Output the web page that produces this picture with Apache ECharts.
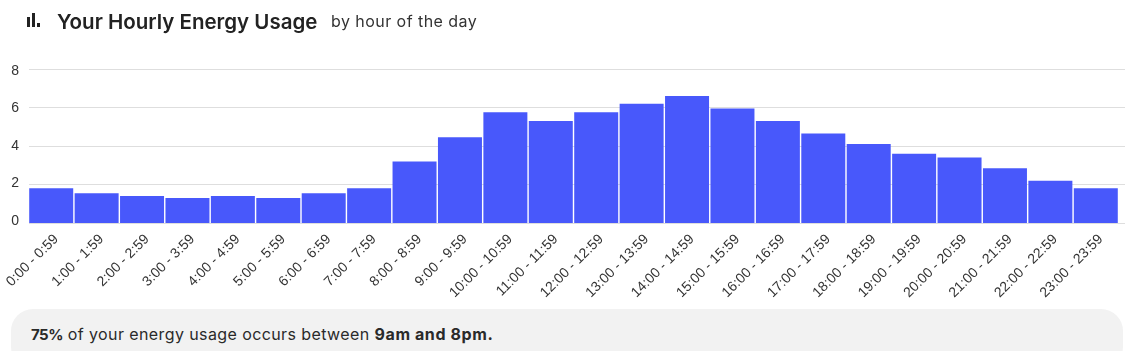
<!DOCTYPE html>
<html>
<head>
<meta charset="utf-8">
<title>Your Hourly Energy Usage</title>
<script src="https://cdn.jsdelivr.net/npm/echarts@6/dist/echarts.min.js"></script>
<style>
  html, body { margin: 0; padding: 0; background: #fff; overflow: hidden; }
  body { width: 1128px; height: 351px; position: relative; font-family: Inter, "Noto Sans", sans-serif; color: #222; }
  #chart { position: absolute; left: 0; top: 0; width: 1128px; height: 351px; }
  .icon { position: absolute; left: 26px; top: 13px; width: 15px; height: 14px; }
  .icon i { position: absolute; bottom: 0; width: 3px; background: #222; }
  .title { position: absolute; left: 57px; top: 9px; font-size: 20.5px; line-height: 26px; font-weight: 600; white-space: nowrap; }
  .sub { position: absolute; left: 331px; top: 10px; font-size: 16px; line-height: 22px; letter-spacing: 0.45px; white-space: nowrap; color: #333; }
  .note { position: absolute; left: 11px; top: 309px; width: 1112px; height: 60px; border-radius: 22px; background: #f2f2f2; }
  .note span { position: absolute; left: 20px; top: 14px; font-size: 16px; line-height: 22px; letter-spacing: 0.4px; white-space: nowrap; color: #2a2a2a; }
  .note b.pct { letter-spacing: -0.5px; font-size: 15px; }
  .note b.hrs { letter-spacing: 0.6px; }
</style>
</head>
<body>
<div id="chart"></div>
<div class="icon"><i style="left:1px;height:10px"></i><i style="left:6px;height:14px"></i><i style="left:11px;height:4px"></i></div>
<div class="title">Your Hourly Energy Usage</div>
<div class="sub">by hour of the day</div>
<div class="note"><span><b class="pct">75%</b> of your energy usage occurs between <b class="hrs">9am and 8pm.</b></span></div>
<script>
const hours = ['0:00 - 0:59', '1:00 - 1:59', '2:00 - 2:59', '3:00 - 3:59', '4:00 - 4:59', '5:00 - 5:59',
  '6:00 - 6:59', '7:00 - 7:59', '8:00 - 8:59', '9:00 - 9:59', '10:00 - 10:59', '11:00 - 11:59',
  '12:00 - 12:59', '13:00 - 13:59', '14:00 - 14:59', '15:00 - 15:59', '16:00 - 16:59', '17:00 - 17:59',
  '18:00 - 18:59', '19:00 - 19:59', '20:00 - 20:59', '21:00 - 21:59', '22:00 - 22:59', '23:00 - 23:59']
const usage = [1.8, 1.55, 1.4, 1.3, 1.4, 1.3, 1.55, 1.8, 3.2, 4.45, 5.75, 5.3,
  5.75, 6.2, 6.6, 5.95, 5.3, 4.65, 4.1, 3.6, 3.4, 2.85, 2.2, 1.8]
const yMax = 8
const yStep = 2

const myChart = echarts.init(document.getElementById('chart'), null, { renderer: 'canvas' })
myChart.setOption({
  animation: false,
  textStyle: { fontFamily: '"Liberation Sans", Arial, sans-serif' },
  // grid 0: gridlines, they run a bit past the last bar
  // grid 1: bars and hour labels
  // grid 2: y labels, spaced slightly tighter than the gridlines
  grid: [
    { left: 29, right: 3, top: 69, bottom: 128, outerBoundsMode: 'none' },
    { left: 28.5, right: 9.5, top: 69, bottom: 128, outerBoundsMode: 'none' },
    { left: 29, right: 3, top: 71, bottom: 130, outerBoundsMode: 'none' }
  ],
  xAxis: [
    { type: 'value', gridIndex: 0, show: false, min: 0, max: 1 },
    {
      type: 'category',
      gridIndex: 1,
      data: hours,
      axisTick: { show: false },
      axisLine: { show: false },
      axisLabel: { interval: 0, rotate: 45, fontSize: 14, color: '#333', margin: 9, align: 'right', verticalAlign: 'top' }
    },
    { type: 'value', gridIndex: 2, show: false, min: 0, max: 1 }
  ],
  yAxis: [
    {
      type: 'value',
      gridIndex: 0,
      min: 0,
      max: yMax,
      interval: yStep,
      axisLine: { show: false },
      axisTick: { show: false },
      axisLabel: { show: false },
      splitLine: { lineStyle: { color: '#dedede' } }
    },
    { type: 'value', gridIndex: 1, show: false, min: 0, max: yMax },
    {
      type: 'value',
      gridIndex: 2,
      min: 0,
      max: yMax,
      interval: yStep,
      axisLine: { show: false },
      axisTick: { show: false },
      axisLabel: { fontSize: 14, color: '#333', margin: 10 },
      splitLine: { show: false }
    }
  ],
  series: [{
    type: 'bar',
    xAxisIndex: 1,
    yAxisIndex: 1,
    data: usage,
    barWidth: 44,
    itemStyle: { color: '#4858fb' }
  }]
})
</script>
</body>
</html>
